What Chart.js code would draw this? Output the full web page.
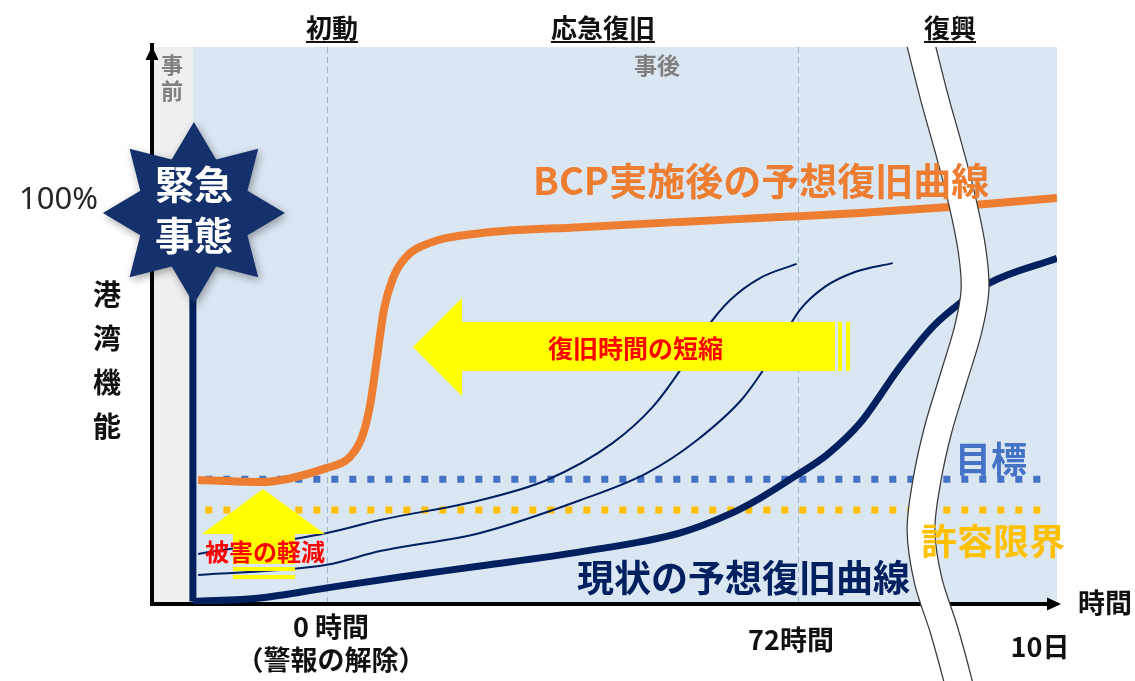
<!DOCTYPE html>
<html><head><meta charset="utf-8">
<script src="https://cdn.jsdelivr.net/npm/chart.js@4.4.1/dist/chart.umd.min.js"></script>
<style>html,body{margin:0;padding:0;background:#fff;overflow:hidden}#wrap{width:1135px;height:681px;position:relative}</style>
</head><body><div id="wrap"><canvas id="c" width="1135" height="681"></canvas></div>
<script>
// ---- data (x: position on time axis, 0 = 0時間, 72 = 72時間; y: 港湾機能 %) ----
const bcpX = [-19.7, -10.2, 0, 3.5, 5.35, 6.6, 7.6, 8.7, 10.1, 11.9, 15.7, 23.4, 38.7, 54.0, 69.2, 81.5, 95.2, 111.6];
const bcpY = [30.7, 30.2, 33.7, 36.4, 41.3, 49.3, 60.4, 72.8, 80.7, 85.6, 89.4, 91.8, 93.3, 94.6, 95.8, 96.8, 98.3, 100.5];
const currentX = [-20.5, -10.2, 0, 11.2, 23.4, 38.7, 54.0, 61.6, 66.2, 71.8, 76.4, 81.5, 87.6, 92.6, 96.8, 101.3, 111.6];
const currentY = [0.6, 1.5, 4.0, 6.7, 9.4, 12.9, 17.6, 22.3, 26.2, 31.9, 36.9, 44.8, 58.7, 68.6, 74.5, 79.5, 85.6];
const midAX = [-19.7, 0, 8.1, 23.4, 33.6, 43.7, 49.8, 54.0, 57.8, 61.6, 66.2, 71.8];
const midAY = [12.4, 17.6, 20.8, 25.7, 30.7, 39.9, 48.8, 57.9, 67.8, 75.2, 80.7, 84.2];
const midBX = [-19.7, 0, 8.1, 23.4, 38.7, 48.9, 56.6, 63.6, 67.7, 72.3, 76.1, 80.7, 86.5];
const midBY = [7.2, 9.7, 13.1, 17.6, 25.7, 32.4, 40.6, 51.0, 60.4, 72.8, 78.5, 82.2, 84.4];
const eventX = [-20.5, -20.5];          // 緊急事態 発生時点
const eventY = [0.6, 80];
const targetLevel = 30.9;               // 目標
const limitLevel = 23.3;                // 許容限界
const levelSpan = [-18.6, 110.5];
const phaseLines = [0, 72];
const xTickValues = [0, 72, 109];
const xTickLabels = [['0 時間', '（警報の解除）'], ['72時間'], ['10日']];
const yTickValues = [100];
const yTickLabels = ['100%'];
const phaseNames = ['初動', '応急復旧', '復興'];

const pts = (xs, ys) => xs.map((x, i) => ({x, y: ys[i]}));
const FONT = '"Noto Sans CJK JP", "Noto Sans", sans-serif';
const NAVY = '#002060', ORANGE = '#ed7d31', BLUE = '#4472c4', GOLD = '#ffc000';

function smooth(ctx, p) {
  ctx.moveTo(p[0][0], p[0][1]);
  for (let i = 0; i < p.length - 1; i++) {
    const p0 = p[i - 1] || p[i], p1 = p[i], p2 = p[i + 1], p3 = p[i + 2] || p2;
    ctx.bezierCurveTo(p1[0] + (p2[0] - p0[0]) / 6, p1[1] + (p2[1] - p0[1]) / 6,
                      p2[0] - (p3[0] - p1[0]) / 6, p2[1] - (p3[1] - p1[1]) / 6, p2[0], p2[1]);
  }
}
function text(ctx, s, x, y, font, color, align) {
  ctx.font = font; ctx.fillStyle = color; ctx.textAlign = align || 'center'; ctx.textBaseline = 'middle';
  ctx.fillText(s, x, y);
}

const deco = {
  id: 'deco',
  beforeDraw(chart) {
    const {ctx, chartArea: a, scales: {x}} = chart;
    const ev = x.getPixelForValue(eventX[0]);
    ctx.save();
    ctx.fillStyle = '#efefef';
    ctx.fillRect(a.left, a.top + 2, ev - a.left, a.bottom - a.top - 2);
    ctx.fillStyle = '#dbe6f3';
    ctx.fillRect(ev, a.top + 2, a.right - ev, a.bottom - a.top - 2);
    ctx.restore();
  },
  beforeDatasetsDraw(chart) {
    const {ctx, chartArea: a, scales: {x}} = chart;
    ctx.save();
    ctx.strokeStyle = '#9db4cf'; ctx.lineWidth = 1; ctx.setLineDash([6, 4]);
    phaseLines.forEach(v => {
      const px = Math.round(x.getPixelForValue(v)) + 0.5;
      ctx.beginPath(); ctx.moveTo(px, a.top + 2); ctx.lineTo(px, a.bottom - 2); ctx.stroke();
    });
    ctx.restore();
  },
  afterDatasetsDraw(chart) {
    const {ctx, chartArea: a, scales: {x, y}} = chart;
    ctx.save();
    // yellow arrow: 復旧時間の短縮
    ctx.fillStyle = '#ffff00';
    ctx.beginPath();
    ctx.moveTo(413, 347); ctx.lineTo(462, 298); ctx.lineTo(462, 322); ctx.lineTo(835, 322);
    ctx.lineTo(835, 371); ctx.lineTo(462, 371); ctx.lineTo(462, 396); ctx.closePath(); ctx.fill();
    ctx.fillRect(838, 322, 4, 49); ctx.fillRect(846, 322, 4, 49);
    // yellow arrow: 被害の軽減
    ctx.beginPath();
    ctx.moveTo(263, 489); ctx.lineTo(325, 534); ctx.lineTo(295, 534); ctx.lineTo(295, 564);
    ctx.lineTo(233, 564); ctx.lineTo(233, 534); ctx.lineTo(202, 534); ctx.closePath(); ctx.fill();
    ctx.fillRect(233, 567, 62, 4); ctx.fillRect(233, 575, 62, 4);
    text(ctx, '復旧時間の短縮', 548, 348, 'bold 25px ' + FONT, '#ff0000', 'left');
    text(ctx, '被害の軽減', 205, 552, 'bold 24px ' + FONT, '#ff0000', 'left');

    // break band
    ctx.save();
    ctx.beginPath(); ctx.rect(0, a.top + 2, chart.width, chart.height); ctx.clip();
    const band = [[912,10],[921,45],[935,100],[949,150],[962,200],[972,250],[975,290],[968,330],[953,380],[938,430],[927,480],[921,530],[928,580],[944,630],[958,681],[962,700]];
    ctx.lineCap = 'butt'; ctx.lineJoin = 'round';
    ctx.beginPath(); smooth(ctx, band); ctx.strokeStyle = '#3a3a3a'; ctx.lineWidth = 29; ctx.stroke();
    ctx.beginPath(); smooth(ctx, band); ctx.strokeStyle = '#ffffff'; ctx.lineWidth = 26.5; ctx.stroke();
    ctx.restore();

    // series labels
    text(ctx, 'BCP実施後の予想復旧曲線', 533, 181, 'bold 38px ' + FONT, ORANGE, 'left');
    text(ctx, '現状の予想復旧曲線', 577, 578, 'bold 37px ' + FONT, NAVY, 'left');
    text(ctx, '目標', 955, 459, 'bold 36px ' + FONT, BLUE, 'left');
    text(ctx, '許容限界', 921, 541, 'bold 36px ' + FONT, GOLD, 'left');
    ctx.restore();
  },
  afterDraw(chart) {
    const {ctx, chartArea: a, scales: {x, y}} = chart;
    ctx.save();
    // axis arrowheads
    ctx.fillStyle = '#000';
    ctx.beginPath(); ctx.moveTo(a.left, a.top + 1); ctx.lineTo(a.left - 6.5, a.top + 15); ctx.lineTo(a.left + 6.5, a.top + 15); ctx.closePath(); ctx.fill();
    ctx.beginPath(); ctx.moveTo(a.right + 4, a.bottom); ctx.lineTo(a.right - 10, a.bottom - 6.5); ctx.lineTo(a.right - 10, a.bottom + 6.5); ctx.closePath(); ctx.fill();

    // star 緊急事態
    const cx = x.getPixelForValue(eventX[0]) + 1, cy = 213, R = 91, r = 58;
    ctx.save();
    ctx.shadowColor = 'rgba(0,0,0,0.35)'; ctx.shadowBlur = 8; ctx.shadowOffsetX = 2; ctx.shadowOffsetY = 3;
    ctx.beginPath();
    for (let i = 0; i < 16; i++) {
      const ang = -Math.PI / 2 + i * Math.PI / 8, rr = i % 2 ? r : R;
      const px = cx + rr * Math.cos(ang), py = cy + rr * Math.sin(ang);
      i ? ctx.lineTo(px, py) : ctx.moveTo(px, py);
    }
    ctx.closePath(); ctx.fillStyle = '#14316b'; ctx.fill();
    ctx.restore();
    text(ctx, '緊急', cx, 184, 'bold 39px ' + FONT, '#ffffff');
    text(ctx, '事態', cx, 235, 'bold 39px ' + FONT, '#ffffff');

    // phase headers
    const hx = [332, 603, 950];
    phaseNames.forEach((s, i) => {
      text(ctx, s, hx[i], 28, 'bold 26px ' + FONT, '#111');
      const w = ctx.measureText(s).width;
      ctx.fillStyle = '#111'; ctx.fillRect(hx[i] - w / 2, 41, w, 2);
    });
    text(ctx, '事後', 657, 65, 'bold 23px ' + FONT, '#7f7f7f');
    text(ctx, '事', 172, 65, 'bold 22px ' + FONT, '#7f7f7f');
    text(ctx, '前', 172, 91, 'bold 22px ' + FONT, '#7f7f7f');

    // axis titles
    ['港', '湾', '機', '能'].forEach((c, i) => text(ctx, c, 107, 294 + i * 44, 'bold 28px ' + FONT, '#111'));
    text(ctx, '時間', 1105, 603, 'bold 27px ' + FONT, '#111');

    // x tick labels
    const dx = [4, -7, 0], ly = [627, 640, 647];
    xTickValues.forEach((v, i) => {
      const px = x.getPixelForValue(v) + dx[i];
      xTickLabels[i].forEach((s, j) => text(ctx, s, px, ly[i] + j * 33, 'bold 27px ' + FONT, '#111'));
    });
    ctx.restore();
  }
};

function build() {
  const line = (data, color, width, order, extra) => Object.assign({
    data, borderColor: color, borderWidth: width, pointRadius: 0, fill: false,
    cubicInterpolationMode: 'monotone', order
  }, extra || {});
  new Chart(document.getElementById('c'), {
    type: 'line',
    data: {
      datasets: [
        line(pts(bcpX, bcpY), ORANGE, 8, 1),
        line(pts(currentX, currentY), NAVY, 7, 2),
        line(pts(eventX, eventY), NAVY, 7, 2, {tension: 0, cubicInterpolationMode: 'default'}),
        line(pts(midAX, midAY), NAVY, 2, 5),
        line(pts(midBX, midBY), NAVY, 2, 5),
        line(pts(levelSpan, levelSpan.map(() => targetLevel)), BLUE, 7, 10, {tension: 0, cubicInterpolationMode: 'default', borderDash: [7, 11]}),
        line(pts(levelSpan, levelSpan.map(() => limitLevel)), GOLD, 7, 10, {tension: 0, cubicInterpolationMode: 'default', borderDash: [7, 11]})
      ]
    },
    options: {
      responsive: false, animation: false, devicePixelRatio: 1,
      layout: {padding: {top: 45, right: 78, left: 0, bottom: 0}},
      plugins: {legend: {display: false}, tooltip: {enabled: false}},
      scales: {
        x: {
          type: 'linear', min: -26.75, max: 111.6,
          grid: {display: false},
          border: {display: true, color: '#000', width: 4},
          ticks: {display: false},
          afterBuildTicks: s => { s.ticks = xTickValues.map(v => ({value: v})); },
          afterFit: s => { s.height = 77; s.paddingLeft = 0; s.paddingRight = 0; }
        },
        y: {
          type: 'linear', min: 0, max: 138.4,
          grid: {display: false, drawTicks: false},
          border: {display: true, color: '#000', width: 4},
          ticks: {
            padding: 54, color: '#262626', font: {family: '"Noto Sans", sans-serif', size: 31, weight: 'normal'},
            callback: v => yTickLabels[yTickValues.indexOf(v)]
          },
          afterBuildTicks: s => { s.ticks = yTickValues.map(v => ({value: v})); },
          afterFit: s => { s.width = 152; s.paddingTop = 0; s.paddingBottom = 0; }
        }
      }
    },
    plugins: [deco]
  });
}
const fl = ['bold 20px "Noto Sans CJK JP"', '20px "Noto Sans"'].map(f => document.fonts.load(f).catch(() => {}));
Promise.race([Promise.all(fl), new Promise(r => setTimeout(r, 1500))]).then(build);
</script>
</body></html>
